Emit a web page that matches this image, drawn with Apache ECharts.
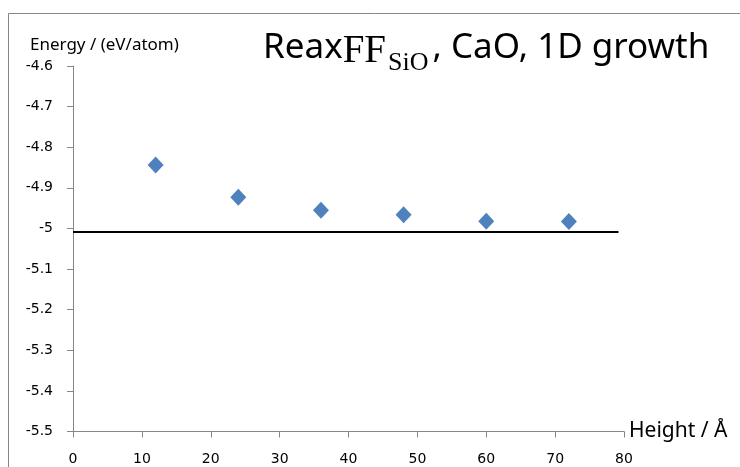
<!DOCTYPE html>
<html>
<head>
<meta charset="utf-8">
<script src="https://cdn.jsdelivr.net/npm/echarts@6/dist/echarts.min.js"></script>
<style>html,body{margin:0;padding:0;background:#fff}#c{width:740px;height:467px}</style>
</head>
<body>
<div id="c"></div>
<script>
const heights = [12, 24, 36, 48, 60, 72];
const energies = [-4.844, -4.923, -4.955, -4.966, -4.982, -4.983];
const refLineX = [0, 79.2];
const refLineY = [-5.009, -5.009];
const yTicks = [-4.6, -4.7, -4.8, -4.9, -5, -5.1, -5.2, -5.3, -5.4, -5.5];
const xTicks = [0, 10, 20, 30, 40, 50, 60, 70, 80];

const chart = echarts.init(document.getElementById('c'), null, {renderer: 'canvas'});
const axisColor = '#868686';
chart.setOption({
  animation: false,
  backgroundColor: '#fff',
  grid: {left: 73, top: 66, right: 116, bottom: 35.5, containLabel: false},
  title: {
    text: '{a|Reax}{f|FF}{s|SiO}{a|, CaO, 1D growth}',
    left: 263, top: 31, padding: 0,
    textStyle: {
      fontWeight: 'normal',
      rich: {
        a: {fontFamily: 'Noto Sans, sans-serif', fontSize: 35, fontWeight: 'normal', color: '#000', verticalAlign: 'top', lineHeight: 44},
        f: {fontFamily: 'Liberation Serif, serif', fontSize: 39, fontWeight: 'normal', color: '#000', verticalAlign: 'top', lineHeight: 44, padding: [1,0,0,0]},
        s: {fontFamily: 'Liberation Serif, serif', fontSize: 26, fontWeight: 'normal', color: '#000', verticalAlign: 'top', lineHeight: 44, padding: [19,4,0,2]}
      }
    }
  },
  xAxis: {
    type: 'value', min: 0, max: 80, interval: 10,
    name: 'Height / Å', nameLocation: 'end', nameGap: 5,
    nameTextStyle: {fontFamily: 'Noto Sans, sans-serif', fontSize: 21, color: '#000', verticalAlign: 'middle', padding: [-2,0,0,0]},
    axisLine: {show: true, lineStyle: {color: axisColor, width: 1}},
    axisTick: {show: true, inside: false, length: 6, lineStyle: {color: axisColor}},
    axisLabel: {fontFamily: 'DejaVu Sans, sans-serif', fontSize: 14, color: '#000', margin: 21,
      formatter: v => xTicks.includes(v) ? String(v) : ''},
    splitLine: {show: false}
  },
  yAxis: {
    type: 'value', min: -5.5, max: -4.6, interval: 0.1,
    name: 'Energy / (eV/atom)', nameLocation: 'end', nameGap: 12,
    nameTextStyle: {fontFamily: 'Noto Sans, sans-serif', fontSize: 17, color: '#000', align: 'left', padding: [0,0,0,-43]},
    axisLine: {show: true, onZero: false, lineStyle: {color: axisColor, width: 1}},
    axisTick: {show: true, inside: false, length: 6, lineStyle: {color: axisColor}},
    axisLabel: {fontFamily: 'DejaVu Sans, sans-serif', fontSize: 14, color: '#000', margin: 20,
      formatter: v => { const r = Math.round(v*10)/10; return yTicks.includes(r) ? String(r) : ''; }},
    splitLine: {show: false}
  },
  series: [
    {
      type: 'line', data: refLineX.map((x,i)=>[x, refLineY[i]]),
      symbol: 'none', lineStyle: {color: '#000', width: 2}, silent: true
    },
    {
      type: 'scatter', data: heights.map((h,i)=>[h, energies[i]]),
      symbol: 'diamond', symbolSize: [16, 17],
      itemStyle: {color: '#4F81BD', opacity: 1}
    }
  ],
  graphic: [
    {type: 'line', shape: {x1: 8.5, y1: 13.5, x2: 740, y2: 13.5}, style: {stroke: '#868686', lineWidth: 1}},
    {type: 'line', shape: {x1: 8.5, y1: 13.5, x2: 8.5, y2: 467}, style: {stroke: '#868686', lineWidth: 1}}
  ]
});
</script>
</body>
</html>
